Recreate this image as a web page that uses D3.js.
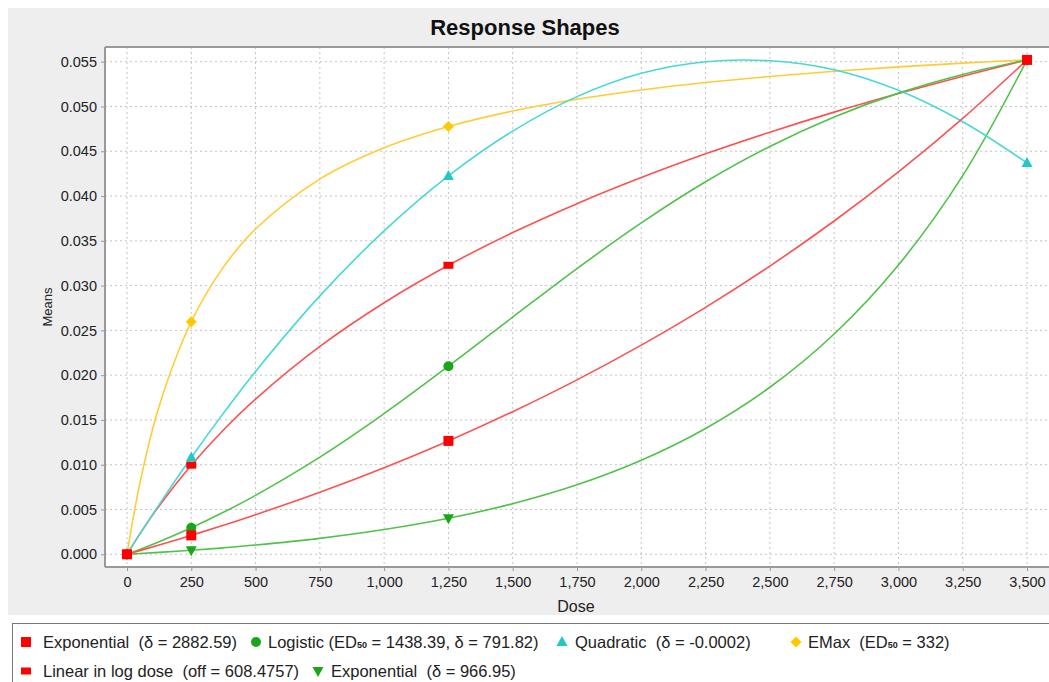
<!DOCTYPE html>
<html>
<head>
<meta charset="utf-8">
<script src="https://cdn.jsdelivr.net/npm/d3@7"></script>
<style>
  body { margin: 0; background: #fff; font-family: Arial, "Liberation Sans", sans-serif; }
  .grid line { stroke: #c4c4c4; stroke-dasharray: 2,3; }
  .tick text { fill: #222; }
  .leg { white-space: pre; }
</style>
</head>
<body>
<div id="chart"></div>
<script>
// dose grid the curves were read at
var doses = [0, 50, 125, 250, 375, 500, 750, 1000, 1250, 1500, 1750, 2000, 2250, 2500, 2750, 3000, 3250, 3500];
// doses that carry a marker
var markerDoses = [0, 250, 1250, 3500];

// means, one value per dose above
var expSlow   = [0, 0.00041, 0.00103, 0.00211, 0.00324, 0.00442, 0.00693, 0.00967, 0.01266, 0.01592, 0.01947, 0.02335, 0.02757, 0.03218, 0.03721, 0.04269, 0.04867, 0.0552];
var logistic  = [0, 0.00054, 0.0014, 0.00296, 0.00469, 0.00658, 0.01085, 0.01571, 0.021, 0.02648, 0.0319, 0.037, 0.04159, 0.04554, 0.04883, 0.05149, 0.05358, 0.0552];
var quadratic = [0, 0.00225, 0.00555, 0.0108, 0.01576, 0.02042, 0.02885, 0.03611, 0.04225, 0.04725, 0.0511, 0.0537, 0.0550, 0.0551, 0.0541, 0.0518, 0.0483, 0.0437];
var emax      = [0, 0.00791, 0.01653, 0.02596, 0.03206, 0.03632, 0.04189, 0.04538, 0.04776, 0.04949, 0.0508, 0.05184, 0.05267, 0.05335, 0.05393, 0.05442, 0.05484, 0.0552];
var linLog    = [0, 0.00228, 0.0054, 0.00995, 0.01388, 0.01733, 0.02321, 0.02809, 0.03227, 0.03592, 0.03915, 0.04206, 0.04471, 0.04713, 0.04937, 0.05144, 0.05338, 0.0552];
var expFast   = [0, 0.00008, 0.00021, 0.00045, 0.00072, 0.00103, 0.00178, 0.00276, 0.00402, 0.00565, 0.00776, 0.0105, 0.01405, 0.01865, 0.0246, 0.0323, 0.04228, 0.0552];

var xTicks = d3.range(0, 3501, 250);
var yTicks = [0, 0.005, 0.01, 0.015, 0.02, 0.025, 0.03, 0.035, 0.04, 0.045, 0.05, 0.055];

var series = [
  {name: "Exponential", values: expSlow, line: "#ff5050", fill: "#ff0000", shape: "square"},
  {name: "Logistic", values: logistic, line: "#4fc24a", fill: "#1aa61a", shape: "circle"},
  {name: "Quadratic", values: quadratic, line: "#48d8d8", fill: "#22c8c8", shape: "triangle"},
  {name: "EMax", values: emax, line: "#ffcc33", fill: "#ffc800", shape: "diamond"},
  {name: "Linear in log dose", values: linLog, line: "#ff5050", fill: "#ff0000", shape: "rect"},
  {name: "Exponential", values: expFast, line: "#4fc24a", fill: "#1aa61a", shape: "down"}
];

function marker(g, shape, color, cx, cy) {
  if (shape == "square") {
    g.append("rect").attr("x", cx - 5).attr("y", cy - 5).attr("width", 10).attr("height", 10).attr("fill", color);
  } else if (shape == "rect") {
    g.append("rect").attr("x", cx - 5).attr("y", cy - 3.5).attr("width", 10).attr("height", 7).attr("fill", color);
  } else if (shape == "circle") {
    g.append("circle").attr("cx", cx).attr("cy", cy).attr("r", 5).attr("fill", color);
  } else if (shape == "triangle") {
    g.append("path").attr("d", `M${cx},${cy - 6}L${cx + 5.5},${cy + 4}L${cx - 5.5},${cy + 4}Z`).attr("fill", color);
  } else if (shape == "down") {
    g.append("path").attr("d", `M${cx},${cy + 6}L${cx + 5.5},${cy - 4}L${cx - 5.5},${cy - 4}Z`).attr("fill", color);
  } else if (shape == "diamond") {
    g.append("path").attr("d", `M${cx},${cy - 5.5}L${cx + 5.5},${cy}L${cx},${cy + 5.5}L${cx - 5.5},${cy}Z`).attr("fill", color);
  }
}

function drawChart() {
  let W = 1049, H = 682;
  let svg = d3.select("#chart").append("svg").attr("width", W).attr("height", H);

  // panel background
  svg.append("rect").attr("x", 8).attr("y", 8).attr("width", W - 8).attr("height", 607).attr("fill", "#eeeeee");

  let pl = 105, pr = 1049, pt = 47, pb = 567;
  let x = d3.scaleLinear().domain([-85.5, 3585.5]).range([pl, pr]);
  let y = d3.scaleLinear().domain([-0.00142, 0.05664]).range([pb, pt]);

  svg.append("rect").attr("x", pl).attr("y", pt).attr("width", pr - pl).attr("height", pb - pt).attr("fill", "#fff");

  // grid
  let grid = svg.append("g").attr("class", "grid");
  grid.selectAll(".gx").data(xTicks).enter().append("line")
    .attr("x1", d => x(d)).attr("x2", d => x(d)).attr("y1", pt).attr("y2", pb);
  grid.selectAll(".gy").data(yTicks).enter().append("line")
    .attr("y1", d => y(d)).attr("y2", d => y(d)).attr("x1", pl).attr("x2", pr);

  // axes
  let xAxis = svg.append("g").attr("transform", "translate(0," + pb + ")")
    .call(d3.axisBottom(x).tickValues(xTicks).tickFormat(d3.format(",")).tickSize(4).tickPadding(6));
  let yAxis = svg.append("g").attr("transform", "translate(" + pl + ",0)")
    .call(d3.axisLeft(y).tickValues(yTicks).tickFormat(d3.format(".3f")).tickSize(4).tickPadding(4));
  [xAxis, yAxis].forEach(a => {
    a.selectAll("text").style("font-size", "14.5px").style("font-family", "Arial, 'Liberation Sans', sans-serif");
    a.selectAll(".tick line").attr("stroke", "#999");
    a.select(".domain").remove();
  });

  // plot frame
  svg.append("line").attr("x1", pl).attr("x2", pr).attr("y1", pt).attr("y2", pt).attr("stroke", "#999").attr("stroke-width", 2);
  svg.append("line").attr("x1", pl).attr("x2", pl).attr("y1", pt).attr("y2", pb).attr("stroke", "#999").attr("stroke-width", 2);
  svg.append("line").attr("x1", pl).attr("x2", pr).attr("y1", pb).attr("y2", pb).attr("stroke", "#999").attr("stroke-width", 2);

  // titles
  svg.append("text").attr("x", 525).attr("y", 35).attr("text-anchor", "middle")
    .style("font-size", "22px").style("font-weight", "bold").attr("fill", "#111").text("Response Shapes");
  svg.append("text").attr("x", (pl + pr) / 2 - 1).attr("y", 612).attr("text-anchor", "middle")
    .style("font-size", "16px").attr("fill", "#222").text("Dose");
  svg.append("text").attr("transform", "translate(52," + ((pt + pb) / 2) + ") rotate(-90)")
    .attr("text-anchor", "middle").style("font-size", "13px").attr("fill", "#222").text("Means");

  // curves
  let line = d3.line().x(d => x(d[0])).y(d => y(d[1])).curve(d3.curveCatmullRom.alpha(0.5));
  let lines = svg.append("g");
  series.slice().reverse().forEach(s => {
    lines.append("path").datum(doses.map((d, i) => [d, s.values[i]]))
      .attr("d", line).attr("fill", "none").attr("stroke", s.line).attr("stroke-width", 1.6);
  });

  let marks = svg.append("g");
  series.slice().reverse().forEach(s => {
    markerDoses.forEach(d => {
      let v = s.values[doses.indexOf(d)];
      marker(marks, s.shape, s.fill, x(d), y(v));
    });
  });

  // legend
  svg.append("rect").attr("x", 12.5).attr("y", 623.5).attr("width", W).attr("height", 80)
    .attr("fill", "#fff").attr("stroke", "#777");
  let legendItems = [
    {s: 0, mx: 26, tx: 43, ty: 648, parts: ["Exponential  (δ = 2882.59)"]},
    {s: 1, mx: 256, tx: 268, ty: 648, parts: ["Logistic (ED", "50", " = 1438.39, δ = 791.82)"]},
    {s: 2, mx: 562, tx: 575, ty: 648, parts: ["Quadratic  (δ = -0.0002)"]},
    {s: 3, mx: 796, tx: 808, ty: 648, parts: ["EMax  (ED", "50", " = 332)"]},
    {s: 4, mx: 26, tx: 43, ty: 677, parts: ["Linear in log dose  (off = 608.4757)"]},
    {s: 5, mx: 318, tx: 331, ty: 677, parts: ["Exponential  (δ = 966.95)"]}
  ];
  let legend = svg.append("g");
  legendItems.forEach(it => {
    let s = series[it.s];
    marker(legend, s.shape, s.fill, it.mx, it.ty - 6);
    let t = legend.append("text").attr("class", "leg").attr("x", it.tx).attr("y", it.ty)
      .style("font-size", "16.5px").attr("fill", "#222");
    it.parts.forEach((p, i) => {
      let sp = t.append("tspan").text(p);
      if (i == 1) sp.style("font-size", "9px").style("font-weight", "bold");
    });
  });
}

drawChart();
</script>
</body>
</html>
